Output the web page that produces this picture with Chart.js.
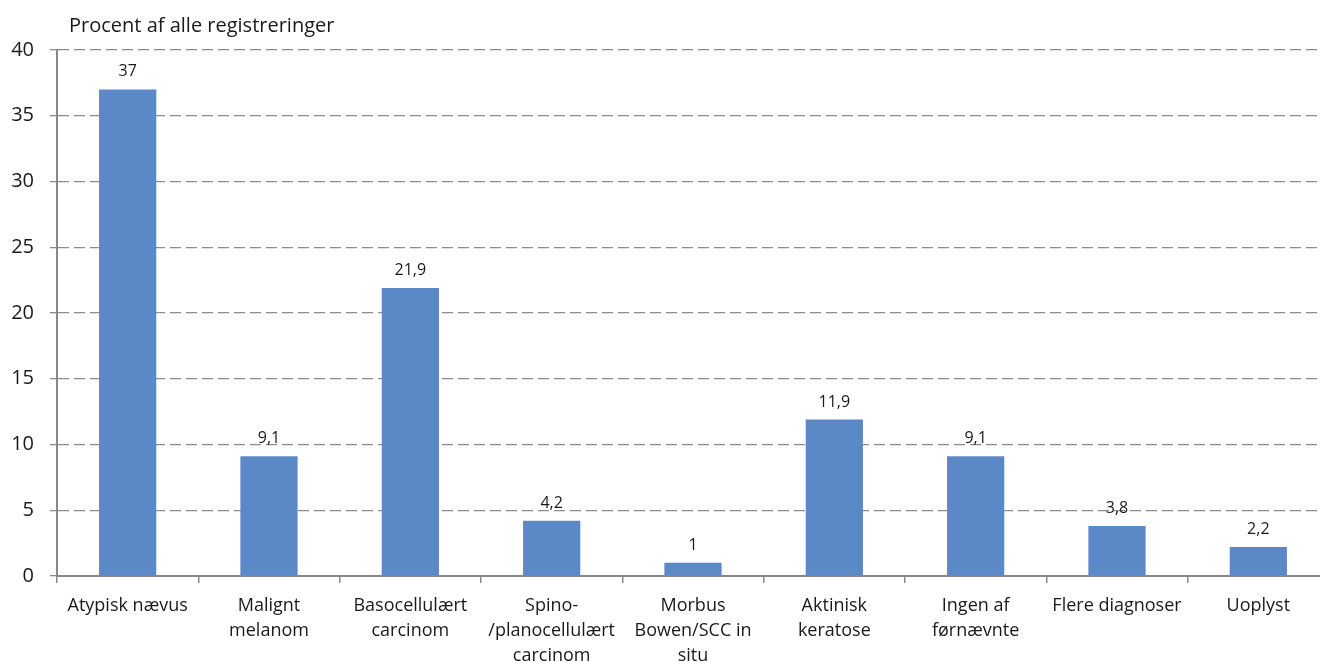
<!DOCTYPE html>
<html>
<head>
<meta charset="utf-8">
<script src="https://cdn.jsdelivr.net/npm/chart.js@4.4.1/dist/chart.umd.min.js"></script>
<style>
html,body{margin:0;padding:0;background:#fff;overflow:hidden;}
#wrap{width:1320px;height:662px;position:relative;overflow:hidden;}
canvas{display:block;}
</style>
</head>
<body>
<div id="wrap"><canvas id="c" width="1332" height="662"></canvas></div>
<script>
const categories = [
  ["Atypisk nævus"],
  ["Malignt", "melanom"],
  ["Basocellulært", "carcinom"],
  ["Spino-", "/planocellulært", "carcinom"],
  ["Morbus", "Bowen/SCC in", "situ"],
  ["Aktinisk", "keratose"],
  ["Ingen af", "førnævnte"],
  ["Flere diagnoser"],
  ["Uoplyst"]
];
const values = [37, 9.1, 21.9, 4.2, 1, 11.9, 9.1, 3.8, 2.2];
const yTicks = [0, 5, 10, 15, 20, 25, 30, 35, 40];
const axisTitle = "Procent af alle registreringer";

const FONT = "'Open Sans', 'Noto Sans', sans-serif";

const fmt = v => String(v).replace('.', ',');

const labelPlugin = {
  id: 'labels',
  afterDatasetsDraw(chart) {
    const ctx = chart.ctx;
    const meta = chart.getDatasetMeta(0);
    ctx.save();
    ctx.font = "16px " + FONT;
    ctx.fillStyle = '#1a1a1a';
    ctx.textAlign = 'center';
    ctx.textBaseline = 'alphabetic';
    meta.data.forEach((bar, i) => {
      ctx.fillText(fmt(values[i]), bar.x, bar.y - 13);
    });
    ctx.restore();
  },
  afterDraw(chart) {
    const ctx = chart.ctx;
    ctx.save();
    ctx.font = "20px " + FONT;
    ctx.fillStyle = '#1a1a1a';
    ctx.textAlign = 'left';
    ctx.textBaseline = 'alphabetic';
    ctx.fillText(axisTitle, 69, 32);
    ctx.restore();
  }
};

new Chart(document.getElementById('c'), {
  type: 'bar',
  data: {
    labels: categories,
    datasets: [{
      data: values,
      backgroundColor: '#5b89c7',
      borderWidth: 0,
      categoryPercentage: 1,
      barPercentage: 0.405
    }]
  },
  options: {
    responsive: false,
    animation: false,
    devicePixelRatio: 1,
    layout: { padding: { top: 50, right: 3, left: 0, bottom: 0 } },
    plugins: { legend: { display: false }, tooltip: { enabled: false }, title: { display: false } },
    scales: {
      x: {
        offset: true,
        grid: { display: true, drawOnChartArea: false, drawTicks: true, tickLength: 7, offset: true, color: '#888', lineWidth: 1.5 },
        border: { display: true, color: '#888', width: 2 },
        ticks: { color: '#1a1a1a', font: { family: FONT, size: 18, lineHeight: 1.4 }, padding: 10, maxRotation: 0, autoSkip: false },
        afterFit(s) { s.height = 86; }
      },
      y: {
        min: 0, max: 40,
        afterBuildTicks(s) { s.ticks = yTicks.map(v => ({ value: v })); },
        grid: { color: '#8c8c8c', lineWidth: 1.3, drawTicks: true, tickLength: 7 },
        border: { display: true, color: '#888', width: 2, dash: [11, 5] },
        ticks: { color: '#1a1a1a', font: { family: FONT, size: 20 }, padding: 16, callback: v => v },
        afterFit(s) { s.width = 57; }
      }
    }
  },
  plugins: [labelPlugin]
});
</script>
</body>
</html>
